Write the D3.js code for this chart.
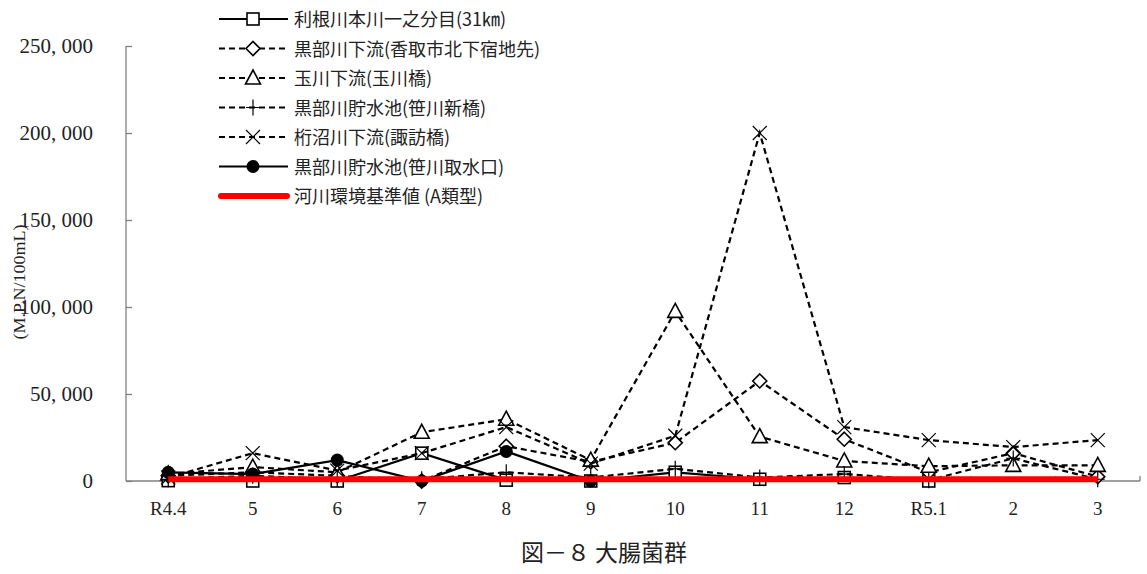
<!DOCTYPE html>
<html><head><meta charset="utf-8">
<script src="https://cdn.jsdelivr.net/npm/d3@7"></script>
<style>body{margin:0;background:#fff}svg{display:block}</style>
</head><body>
<svg id="c" width="1147" height="574"></svg>
<script>
const categories = ["R4.4","5","6","7","8","9","10","11","12","R5.1","2","3"];
const yTicks = [0,50000,100000,150000,200000,250000];
const yTickLabels = ["0","50, 000","100, 000","150, 000","200, 000","250, 000"];
const seriesNames = ["利根川本川一之分目(31㎞)","黒部川下流(香取市北下宿地先)","玉川下流(玉川橋)","黒部川貯水池(笹川新橋)","桁沼川下流(諏訪橋)","黒部川貯水池(笹川取水口)","河川環境基準値 (A類型)"];
const toneValues = [200,0,0,16000,500,0,5000,1000,2000,0,null,null];
const kurobeShimoValues = [3000,5000,3000,0,20000,11000,22000,57500,24000,5000,16000,2500];
const tamagawaValues = [4000,8000,5000,28000,35500,12000,97500,25500,11500,8500,9000,9000];
const sasagawaShinValues = [1000,3000,1000,1000,5000,2000,7000,2000,4000,500,13000,1000];
const ketanumaValues = [2000,16000,6000,16000,31000,10000,26000,200000,31000,23500,19500,23500];
const sasagawaShusuiValues = [5000,4000,12000,0,17000,0,null,null,null,null,null,null];
const standardValues = [1000,1000,1000,1000,1000,1000,1000,1000,1000,1000,1000,1000];
const yLabel = "(M.P.N/100mL)";
const title = "図－８ 大腸菌群";

const series = [
  {name:seriesNames[0], values:toneValues, dash:null, marker:"square"},
  {name:seriesNames[1], values:kurobeShimoValues, dash:"6,4", marker:"diamond"},
  {name:seriesNames[2], values:tamagawaValues, dash:"6,4", marker:"triangle"},
  {name:seriesNames[3], values:sasagawaShinValues, dash:"6,4", marker:"plus"},
  {name:seriesNames[4], values:ketanumaValues, dash:"6,4", marker:"x"},
  {name:seriesNames[5], values:sasagawaShusuiValues, dash:null, marker:"circle"}
];

const svg = d3.select("#c");
const serif = "'Liberation Serif','Noto Sans CJK JP',serif";
const cjk = "'Noto Sans CJK JP','Liberation Serif',sans-serif";
const x = d3.scaleBand().domain(categories).range([126,1140]);
const cx = c => x(c) + x.bandwidth()/2;
const y = d3.scaleLinear().domain([0,250000]).range([481,46]);

// axes
const yAxis = d3.axisRight(y).tickValues(yTicks).tickSize(6).tickFormat("");
const gy = svg.append("g").attr("transform","translate(126,0)").call(yAxis);
gy.select(".domain").attr("d","M0,46V481").attr("stroke","#808080").attr("stroke-width",1.3);
gy.selectAll(".tick line").attr("stroke","#808080").attr("stroke-width",1.3);
svg.append("g").selectAll("text").data(yTicks).join("text")
  .attr("x",93).attr("y",d=>y(d)+7).attr("text-anchor","end")
  .attr("font-family",serif).attr("font-size",21).attr("fill","#222")
  .text((d,i)=>yTickLabels[i]);

const xAxis = d3.axisBottom(x).tickSize(0).tickFormat("");
const gx = svg.append("g").attr("transform","translate(0,481)").call(xAxis);
gx.select(".domain").attr("d","M126,0H1140").attr("stroke","#808080").attr("stroke-width",1.3);
svg.append("g").selectAll("line").data(categories.slice(1).concat(["end"])).join("line")
  .attr("x1",(d,i)=> i<categories.length-1 ? x(d) : 1140)
  .attr("x2",(d,i)=> i<categories.length-1 ? x(d) : 1140)
  .attr("y1",476).attr("y2",481).attr("stroke","#808080").attr("stroke-width",1.3);
svg.append("g").selectAll("text").data(categories).join("text")
  .attr("x",d=>cx(d)).attr("y",515).attr("text-anchor","middle")
  .attr("font-family",serif).attr("font-size",19).attr("fill","#222").text(d=>d);

// y label
svg.append("text").attr("transform","translate(25,282) rotate(-90)")
  .attr("text-anchor","middle").attr("font-family",serif).attr("font-size",17).attr("fill","#222")
  .attr("textLength",115).attr("lengthAdjust","spacingAndGlyphs")
  .text(yLabel);

// marker drawer
function drawMarker(g, type, px, py){
  const s = 6;
  if(type==="square") g.append("rect").attr("x",px-s).attr("y",py-s).attr("width",2*s).attr("height",2*s).attr("fill","#fff").attr("stroke","#000").attr("stroke-width",1.6);
  else if(type==="diamond") g.append("path").attr("d",`M${px},${py-7}L${px+7},${py}L${px},${py+7}L${px-7},${py}Z`).attr("fill","#fff").attr("stroke","#000").attr("stroke-width",1.6);
  else if(type==="triangle") g.append("path").attr("d",`M${px},${py-8}L${px+7.5},${py+6}L${px-7.5},${py+6}Z`).attr("fill","#fff").attr("stroke","#000").attr("stroke-width",1.6);
  else if(type==="plus") g.append("path").attr("d",`M${px-7},${py}H${px+7}M${px},${py-8}V${py+8}`).attr("stroke","#000").attr("stroke-width",1.2);
  else if(type==="x") g.append("path").attr("d",`M${px-7},${py-7}L${px+7},${py+7}M${px+7},${py-7}L${px-7},${py+7}`).attr("stroke","#000").attr("stroke-width",1.2);
  else if(type==="circle") g.append("circle").attr("cx",px).attr("cy",py).attr("r",6.5).attr("fill","#000");
}

const line = d3.line().defined(d=>d.v!==null).x(d=>cx(d.c)).y(d=>y(d.v));
series.forEach(s=>{
  const pts = categories.map((c,i)=>({c, v:s.values[i]}));
  const g = svg.append("g");
  g.append("path").attr("d",line(pts)).attr("fill","none").attr("stroke","#000")
    .attr("stroke-width",2.2).attr("stroke-dasharray",s.dash);
  pts.filter(p=>p.v!==null).forEach(p=>drawMarker(g,s.marker,cx(p.c),y(p.v)));
});
const stdPts = categories.map((c,i)=>({c, v:standardValues[i]}));
svg.append("path").attr("d",line(stdPts)).attr("fill","none").attr("stroke","#ff0000").attr("stroke-width",6);

// legend
const lg = svg.append("g");
const rowY = i => 19 + i*29.5;
series.forEach((s,i)=>{
  const yy = rowY(i);
  lg.append("line").attr("x1",219).attr("x2",288).attr("y1",yy).attr("y2",yy)
    .attr("stroke","#000").attr("stroke-width",2.2).attr("stroke-dasharray",s.dash);
  drawMarker(lg,s.marker,253,yy);
});
lg.append("line").attr("x1",221).attr("x2",287).attr("y1",rowY(6)).attr("y2",rowY(6))
  .attr("stroke","#ff0000").attr("stroke-width",6).attr("stroke-linecap","round");
lg.selectAll("text").data(seriesNames).join("text")
  .attr("x",294).attr("y",(d,i)=>rowY(i)+7).attr("font-family",cjk).attr("font-size",18).attr("fill","#222")
  .text(d=>d);

svg.append("text").attr("x",604).attr("y",561).attr("text-anchor","middle")
  .attr("font-family",cjk).attr("font-size",23).attr("fill","#222").text(title);
</script>
</body></html>
